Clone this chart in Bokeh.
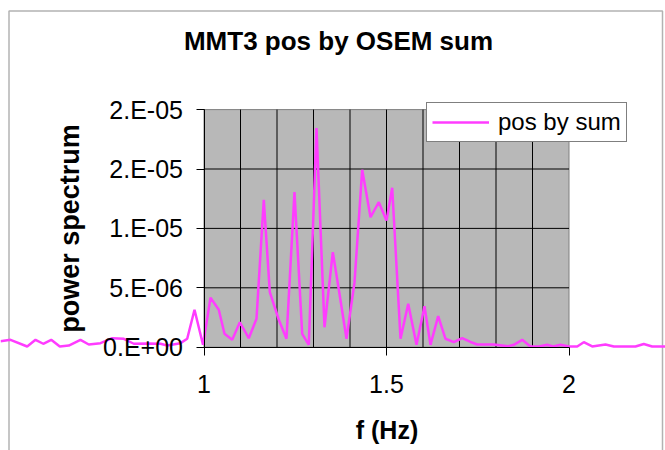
from bokeh.plotting import figure
from bokeh.models import Range1d, LinearAxis, FixedTicker, Label, BoxAnnotation
from bokeh.embed import file_html
from bokeh.resources import INLINE

# ---------------- data ----------------
freq_hz = [0.4425, 0.4699, 0.5156, 0.5384, 0.5595, 0.5814, 0.6049, 0.6296, 0.6616, 0.6844,
           0.7164, 0.7485, 0.7803, 0.8077, 0.8444, 0.8808, 0.8992, 0.9356, 0.9540, 0.9740,
           0.9973, 1.0178, 1.0405, 1.0562, 1.0773, 1.0981, 1.1227, 1.1438, 1.1638, 1.1803,
           1.2049, 1.2260, 1.2479, 1.2690, 1.2871, 1.3082, 1.3301, 1.3529, 1.3712, 1.3904,
           1.4123, 1.4334, 1.4562, 1.4789, 1.5000, 1.5156, 1.5384, 1.5595, 1.5822, 1.6041,
           1.6205, 1.6416, 1.6616, 1.6844, 1.7074, 1.7301, 1.7485, 1.7940, 1.8329, 1.8488,
           1.8718, 1.8945, 1.9173, 1.9403, 1.9567, 1.9767, 1.9995, 2.0225, 2.0405, 2.0636,
           2.1000, 2.1227, 2.1822, 2.2049, 2.2279, 2.2644]
power_e6 = [0.50, 0.62, 0.06, 0.62, 0.29, 0.62, 0.06, 0.14, 0.62, 0.23,
            0.34, 0.76, 0.71, 0.29, 0.31, 0.29, 0.14, 0.34, 0.71, 3.15,
            0.20, 4.16, 3.15, 1.13, 0.62, 2.10, 0.76, 2.39, 12.41, 4.63,
            2.31, 0.71, 13.05, 1.13, 0.20, 18.44, 1.68, 8.00, 4.50, 0.71,
            5.45, 14.93, 10.94, 12.21, 10.67, 13.42, 0.71, 3.65, 0.20, 3.45,
            0.20, 2.61, 0.71, 0.42, 0.76, 0.44, 0.23, 0.23, 0.08, 0.20,
            0.62, 0.06, 0.06, 0.20, 0.06, 0.20, 0.06, 0.06, 0.42, 0.06,
            0.23, 0.06, 0.06, 0.27, 0.06, 0.06]
power = [v * 1e-6 for v in power_e6]

series_name = "pos by sum"
title_text = "MMT3 pos by OSEM sum"
x_title = "f (Hz)"
y_title = "power spectrum"

x_ticks = [1.0, 1.5, 2.0]
x_tick_labels = ["1", "1.5", "2"]
x_grid = [1.1, 1.2, 1.3, 1.4, 1.5, 1.6, 1.7, 1.8, 1.9]
y_ticks = [0.0, 5e-6, 1e-5, 1.5e-5, 2e-5]
y_tick_labels = ["0.E+00", "5.E-06", "1.E-05", "2.E-05", "2.E-05"]
y_grid = [5e-6, 1e-5, 1.5e-5]

# ---------------- layout (pixel geometry of the chart) ----------------
W, H = 665, 450
PX_X1 = 203.5          # pixel column of f = 1
PX_PER_HZ = 365.0
PY_Y0 = 346.7          # pixel row of power = 0
PX_PER_UNIT_Y = 59.4 / 5e-6

X0 = 1.0 - PX_X1 / PX_PER_HZ
X1 = X0 + W / PX_PER_HZ
Y1 = PY_Y0 / PX_PER_UNIT_Y
Y0 = Y1 - H / PX_PER_UNIT_Y


def px2x(px):
    return X0 + px / PX_PER_HZ


def py2y(py):
    return Y1 - py / PX_PER_UNIT_Y


FONT = "Liberation Sans"
xmin, xmax = min(x_ticks), max(x_ticks)
ymin, ymax = min(y_ticks), max(y_ticks)

p = figure(width=W, height=H, x_range=Range1d(X0, X1), y_range=Range1d(Y0, Y1),
           x_axis_type=None, y_axis_type=None, toolbar_location=None,
           output_backend="svg", min_border=0, outline_line_color=None,
           background_fill_color="white", border_fill_color="white")

# outer chart border
p.add_layout(BoxAnnotation(left=px2x(8.5), right=px2x(662), top=py2y(10.5), bottom=py2y(470),
                           fill_color=None, line_color="black", line_width=1.5, level="underlay"))

# grey plot area
p.quad(left=[xmin], right=[xmax], bottom=[ymin], top=[ymax],
       fill_color="#b8b8b8", line_color="#808080", line_width=1)

# gridlines
p.segment(x0=x_grid, y0=[ymin] * len(x_grid), x1=x_grid, y1=[ymax] * len(x_grid),
          line_color="black", line_width=1)
p.segment(x0=[xmin] * len(y_grid), y0=y_grid, x1=[xmax] * len(y_grid), y1=y_grid,
          line_color="black", line_width=1)

# series
p.line(freq_hz, power, line_color="#ff3cff", line_width=2.5, legend_label=series_name)

# axes
yax = LinearAxis(fixed_location=xmin, bounds=(ymin, ymax),
                 ticker=FixedTicker(ticks=y_ticks, minor_ticks=[]),
                 major_label_overrides={t: l for t, l in zip(y_ticks, y_tick_labels)},
                 axis_label=y_title)
xax = LinearAxis(fixed_location=ymin, bounds=(xmin, xmax),
                 ticker=FixedTicker(ticks=x_ticks, minor_ticks=[]),
                 major_label_overrides={t: l for t, l in zip(x_ticks, x_tick_labels)},
                 axis_label=x_title)
for ax in (yax, xax):
    ax.axis_line_color = "black"
    ax.axis_line_width = 1
    ax.major_tick_line_color = "black"
    ax.major_tick_out = 8
    ax.major_tick_in = 0
    ax.minor_tick_line_color = None
    ax.major_label_text_font = FONT
    ax.major_label_text_font_size = "25px"
    ax.major_label_text_color = "black"
    ax.axis_label_text_font = FONT
    ax.axis_label_text_font_style = "bold"
    ax.axis_label_text_color = "black"
yax.major_label_standoff = 13
yax.axis_label_text_font_size = "27px"
yax.axis_label_standoff = 16
xax.major_label_standoff = 20
xax.axis_label_text_font_size = "25px"
xax.axis_label_standoff = 19
p.add_layout(yax, "left")
p.add_layout(xax, "below")

# title
p.add_layout(Label(x=px2x(338), y=py2y(40), text=title_text, text_align="center",
                   text_baseline="alphabetic", text_font=FONT, text_font_size="26px",
                   text_font_style="bold", text_color="black"))

# legend
lg = p.legend[0]
lg.location = (426, H - 142)
lg.label_text_font = FONT
lg.label_text_font_size = "24px"
lg.label_text_color = "black"
lg.glyph_width = 57
lg.glyph_height = 20
lg.label_standoff = 9
lg.padding = 5
lg.margin = 0
lg.spacing = 0
lg.label_height = 20
lg.border_line_color = "black"
lg.border_line_width = 1
lg.background_fill_color = "white"
lg.background_fill_alpha = 1.0

open("out.html", "w").write(file_html(p, INLINE))
